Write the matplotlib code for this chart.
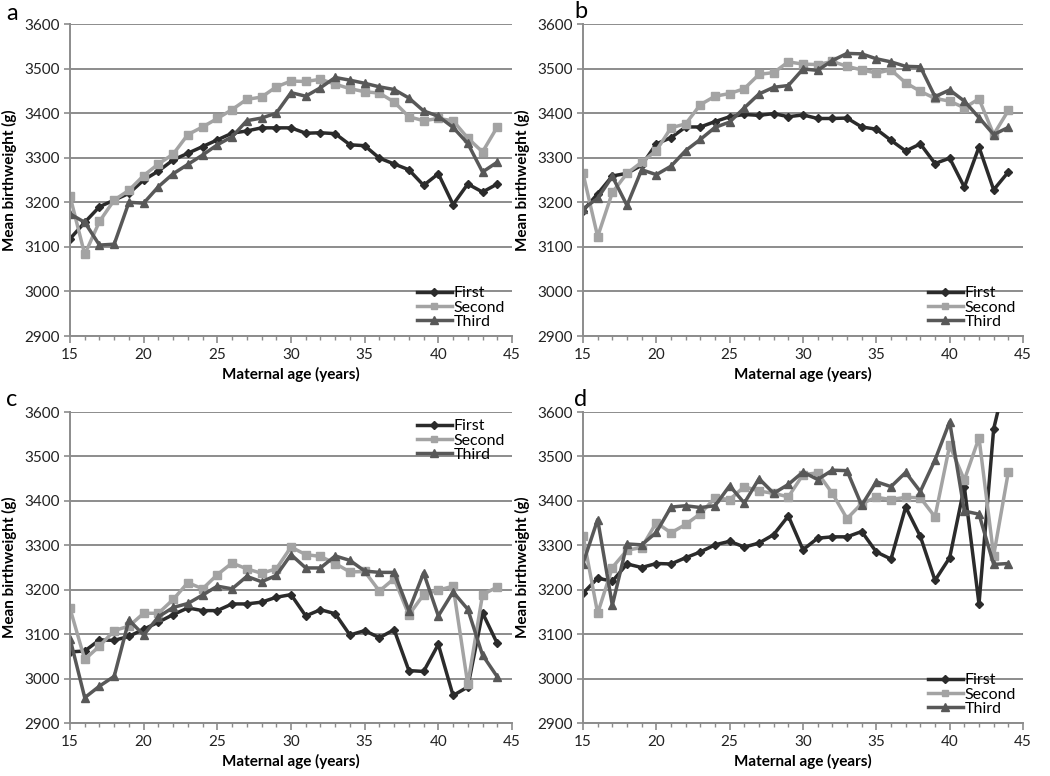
import numpy as np
import matplotlib
matplotlib.use("Agg")
import matplotlib.pyplot as plt
from matplotlib.ticker import MultipleLocator

plt.rcParams['font.family'] = ['Lato', 'DejaVu Sans']

ages = list(range(15, 45))

# panel a
a_first = [3118, 3155, 3190, 3205, 3220, 3250, 3270, 3295, 3310, 3325, 3340, 3355, 3360, 3367, 3367,
           3367, 3355, 3356, 3354, 3329, 3327, 3299, 3286, 3273, 3238, 3264, 3195, 3241, 3223, 3241]
a_second = [3214, 3083, 3157, 3205, 3227, 3260, 3286, 3308, 3352, 3369, 3388, 3408, 3431, 3436, 3459,
            3472, 3471, 3476, 3465, 3455, 3448, 3445, 3425, 3392, 3383, 3388, 3383, 3344, 3313, 3369]
a_third = [3174, 3155, 3104, 3106, 3200, 3198, 3235, 3264, 3285, 3306, 3329, 3347, 3383, 3389, 3400,
           3446, 3438, 3457, 3480, 3474, 3467, 3459, 3453, 3434, 3405, 3393, 3368, 3332, 3268, 3290]

# panel b
b_first = [3181, 3219, 3259, 3265, 3283, 3331, 3345, 3369, 3369, 3381, 3392, 3397, 3395, 3399, 3392,
           3396, 3388, 3388, 3389, 3369, 3364, 3339, 3315, 3331, 3287, 3299, 3234, 3324, 3228, 3268]
b_second = [3265, 3123, 3222, 3265, 3290, 3316, 3367, 3376, 3419, 3438, 3444, 3455, 3487, 3491, 3515,
            3510, 3509, 3516, 3505, 3497, 3490, 3497, 3468, 3449, 3433, 3427, 3412, 3432, 3352, 3406]
b_third = [3185, 3209, 3258, 3193, 3273, 3262, 3281, 3316, 3341, 3368, 3380, 3412, 3443, 3458, 3462,
           3499, 3496, 3518, 3534, 3533, 3522, 3515, 3505, 3504, 3437, 3452, 3427, 3390, 3352, 3368]

# panel c
c_first = [3060, 3062, 3087, 3086, 3095, 3111, 3127, 3144, 3159, 3153, 3153, 3168, 3168, 3172, 3183,
           3189, 3141, 3155, 3146, 3098, 3108, 3092, 3110, 3018, 3016, 3077, 2962, 2981, 3148, 3079]
c_second = [3158, 3043, 3073, 3108, 3118, 3147, 3147, 3178, 3216, 3202, 3234, 3260, 3247, 3237, 3247,
            3296, 3279, 3275, 3259, 3240, 3241, 3197, 3225, 3143, 3189, 3199, 3208, 2987, 3189, 3206]
c_third = [3090, 2957, 2983, 3005, 3132, 3098, 3139, 3160, 3169, 3188, 3208, 3202, 3230, 3218, 3232,
           3279, 3249, 3249, 3276, 3266, 3242, 3239, 3239, 3153, 3238, 3141, 3195, 3156, 3053, 3004]

# panel d
d_first = [3192, 3226, 3219, 3258, 3250, 3259, 3258, 3272, 3285, 3301, 3309, 3296, 3305, 3324, 3366,
           3290, 3316, 3319, 3319, 3331, 3285, 3269, 3386, 3320, 3221, 3272, 3432, 3168, 3562, 3700]
d_second = [3322, 3147, 3250, 3289, 3295, 3351, 3328, 3347, 3371, 3407, 3403, 3432, 3422, 3417, 3409,
            3459, 3463, 3417, 3360, 3394, 3408, 3403, 3408, 3407, 3364, 3525, 3447, 3542, 3277, 3465]
d_third = [3259, 3358, 3165, 3303, 3301, 3329, 3386, 3389, 3385, 3389, 3434, 3395, 3450, 3417, 3437,
           3465, 3448, 3469, 3468, 3390, 3443, 3432, 3464, 3421, 3492, 3578, 3377, 3370, 3257, 3259]

panels = [("a", a_first, a_second, a_third, "lower right"),
          ("b", b_first, b_second, b_third, "lower right"),
          ("c", c_first, c_second, c_third, "upper right"),
          ("d", d_first, d_second, d_third, "lower right")]

fig = plt.figure(figsize=(10.5, 7.76), dpi=100)
W, H = 1050, 776
boxes = [(70, 24, 512, 336), (583, 24, 1023, 336),
         (70, 412, 512, 723), (583, 412, 1023, 723)]
label_pos = [(6, 14), (574, 12), (6, 400), (574, 400)]

grid_col = "#8c8c8c"

for (name, f, s, t, loc), (x0, y0, x1, y1), (lx, ly) in zip(panels, boxes, label_pos):
    ax = fig.add_axes([x0 / W, 1 - y1 / H, (x1 - x0) / W, (y1 - y0) / H])
    ax.plot(ages, f, color="#2b2b2b", lw=2.5, marker="D", ms=4.5, label="First")
    ax.plot(ages, s, color="#a3a3a3", lw=2.5, marker="s", ms=5.5, label="Second")
    ax.plot(ages, t, color="#585858", lw=2.5, marker="^", ms=6, label="Third")
    ax.set_xlim(15, 45)
    ax.set_ylim(2900, 3600)
    ax.set_yticks(np.arange(2900, 3601, 100))
    ax.xaxis.set_major_locator(MultipleLocator(5))
    ax.xaxis.set_minor_locator(MultipleLocator(1))
    ax.yaxis.grid(True, color=grid_col, lw=1.4)
    ax.set_axisbelow(True)
    for sp in ["top", "right"]:
        ax.spines[sp].set_visible(False)
    for sp in ["left", "bottom"]:
        ax.spines[sp].set_color(grid_col)
        ax.spines[sp].set_linewidth(1.4)
    ax.tick_params(axis="both", which="both", color=grid_col, direction="out", labelsize=11,
                   labelcolor="#222222")
    ax.tick_params(axis="x", which="major", length=5, width=1.2)
    ax.tick_params(axis="x", which="minor", length=3, width=1)
    ax.tick_params(axis="y", length=4, width=1.2)
    ax.set_xlabel("Maternal age (years)", fontsize=11, fontweight="bold")
    ax.set_ylabel("Mean birthweight (g)", fontsize=11, fontweight="bold", labelpad=5)
    ax.legend(loc=loc, frameon=False, fontsize=11.5, handlelength=2.2, handletextpad=0.1,
              labelspacing=0.0, borderaxespad=0.05, markerscale=0.9)
    fig.text(lx / W, 1 - ly / H, name, fontsize=17, va="center", ha="left")

fig.savefig("out.png", dpi=100)
